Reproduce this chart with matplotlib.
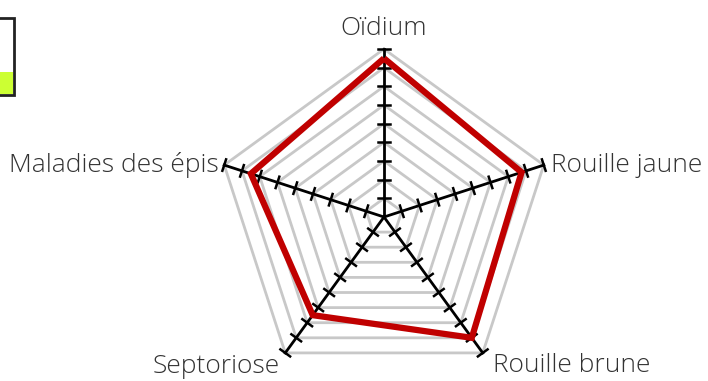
import numpy as np
import matplotlib.pyplot as plt
from matplotlib.patches import Rectangle

# axes of the radar, clockwise from the top
categories = ["Oïdium", "Rouille jaune", "Rouille brune", "Septoriose", "Maladies des épis"]
values = [8.5, 7.75, 8.0, 6.5, 7.5]
levels = list(range(1, 10))
max_level = 9

RED = "#c00000"
GRID = "#c8c8c8"
TEXT = "#333333"

plt.rcParams["font.family"] = ["Open Sans", "DejaVu Sans"]

fig = plt.figure(figsize=(7.08, 3.81), dpi=100)
ax = fig.add_axes([0, 0, 1, 1])
# 1 level = 168/9 px, centre of the radar at (384, 217) px
unit = 168 / max_level
ax.set_xlim(-384 / unit, (708 - 384) / unit)
ax.set_ylim(-(381 - 217) / unit, 217 / unit)
ax.axis("off")

n = len(categories)
angles = np.pi / 2 - 2 * np.pi * np.arange(n) / n
ux, uy = np.cos(angles), np.sin(angles)

# grid pentagons
for lv in levels:
    xs = np.append(ux * lv, ux[0] * lv)
    ys = np.append(uy * lv, uy[0] * lv)
    ax.plot(xs, ys, color=GRID, lw=2, zorder=1, solid_joinstyle="miter")

# spokes with tick marks
tick_half = 6 / unit
for i in range(n):
    ax.plot([0, ux[i] * max_level], [0, uy[i] * max_level], color="black", lw=2, zorder=3)
    px, py = -uy[i], ux[i]
    for lv in levels:
        cx, cy = ux[i] * lv, uy[i] * lv
        ax.plot([cx - px * tick_half, cx + px * tick_half],
                [cy - py * tick_half, cy + py * tick_half],
                color="black", lw=1.8, zorder=3)

# data polygon
vals = np.array(values)
ax.plot(np.append(ux * vals, ux[0] * vals[0]), np.append(uy * vals, uy[0] * vals[0]),
        color=RED, lw=4.5, zorder=4, solid_joinstyle="miter", solid_capstyle="butt")

# labels
fs = 19
kw = dict(fontsize=fs, color=TEXT, fontweight="light")
r_lab = max_level
ax.text(0, r_lab + 0.45, categories[0], ha="center", va="bottom", **kw)
ax.text(ux[1] * r_lab + 0.4, uy[1] * r_lab, categories[1], ha="left", va="center", **kw)
ax.text(ux[2] * r_lab + 0.55, uy[2] * r_lab - 0.65, categories[2], ha="left", va="center", **kw)
ax.text(ux[3] * r_lab - 0.3, uy[3] * r_lab - 0.75, categories[3], ha="right", va="center", **kw)
ax.text(ux[4] * r_lab - 0.3, uy[4] * r_lab, categories[4], ha="right", va="center", **kw)

# legend box cut by the left edge
W, H = 708, 381
fig.patches.append(Rectangle((-20 / W, 1 - 95 / H), 34 / W, 77 / H, transform=fig.transFigure,
                             facecolor="white", edgecolor="#222222", lw=2, zorder=5))
fig.patches.append(Rectangle((-20 / W, 1 - 94 / H), 33 / W, 22 / H, transform=fig.transFigure,
                             facecolor="#ccff33", edgecolor="none", zorder=6))

fig.savefig("out.png", dpi=100)
